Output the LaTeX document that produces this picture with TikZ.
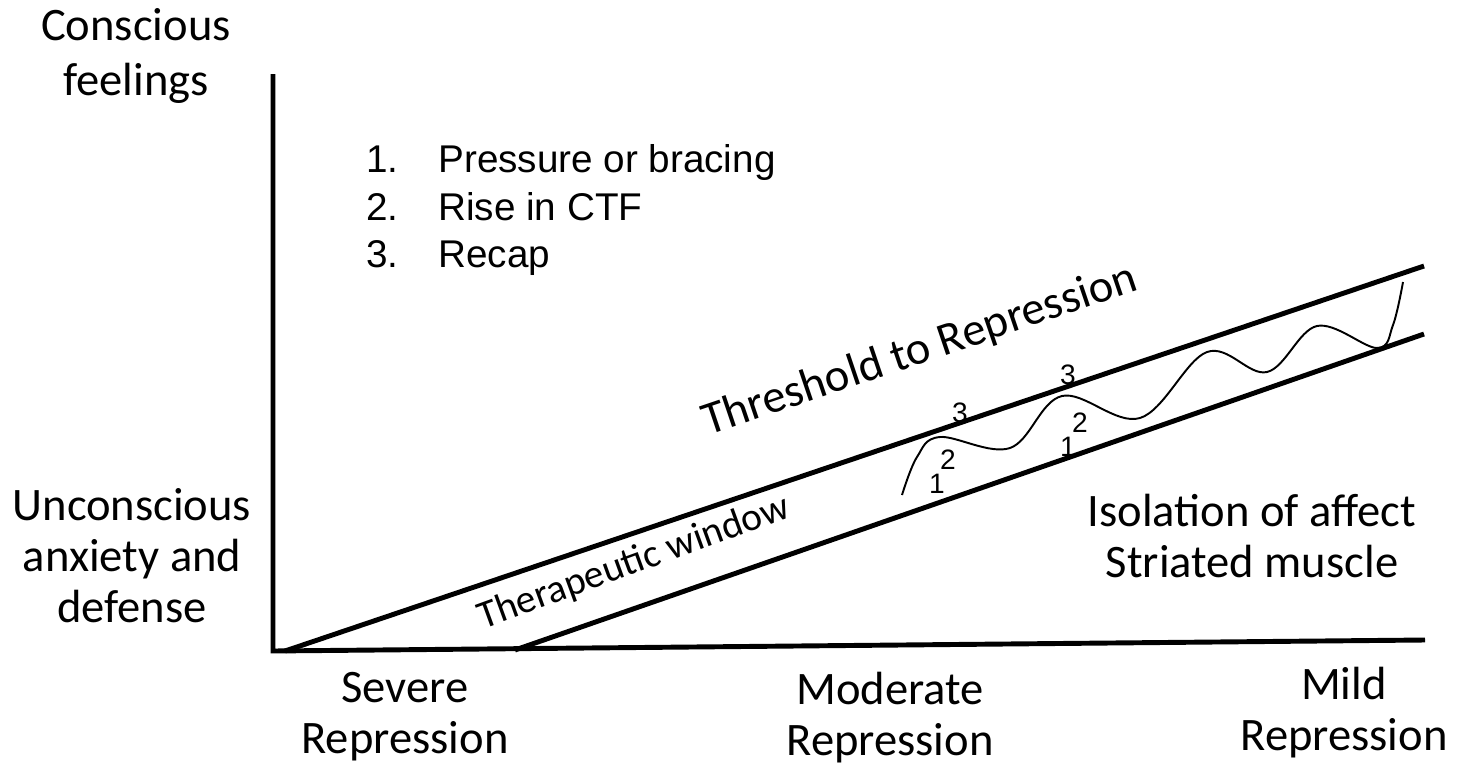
\documentclass[tikz,border=0pt]{standalone}
\usepackage{fontspec}
\setmainfont{Carlito}
\newfontfamily\arialfont{Liberation Sans}
\begin{document}
\begin{tikzpicture}[x=0.02cm,y=-0.02cm,
    thick line/.style={line width=2.8pt},
    lbl/.style={font=\fontsize{26.5}{29}\selectfont, align=center, anchor=base, inner sep=0pt},
    item/.style={font=\arialfont\fontsize{22}{22}\selectfont, anchor=base west, inner sep=0pt},
    num/.style={font=\arialfont\fontsize{16}{16}\selectfont, inner sep=0pt}]
  \useasboundingbox (0,0) rectangle (1468,771);
  % axes
  \coordinate (top) at (273,74);
  \coordinate (o) at (273,651);
  \coordinate (xend) at (1425,640);
  \draw[thick line] (top) -- (o) -- (xend);
  % band
  \coordinate (up0) at (285,651);
  \coordinate (up1) at (1424,266);
  \coordinate (lo0) at (515,650);
  \coordinate (lo1) at (1424,334);
  \draw[thick line] (up0) -- (up1);
  \draw[thick line] (lo0) -- (lo1);
  % wave
  \draw[line width=1.1pt] plot[smooth, tension=0.6] coordinates {
    (902,495) (917,457) (940,437) (1010,448) (1062,396) (1140,418)
    (1207,352) (1267,372) (1317,326) (1377,348) (1393,325) (1403,282)};
  % axis labels (base = last line)
  \node[lbl, font=\fontsize{26.5}{31}\selectfont] (cf) at (136,95) {Conscious\\feelings};
  \node[lbl] (ua) at (132,622) {Unconscious\\anxiety and\\defense};
  \node[lbl] (sev) at (405,753) {Severe\\Repression};
  \node[lbl] (mod) at (890,755) {Moderate\\Repression};
  \node[lbl] (mild) at (1344,750) {Mild\\Repression};
  \node[lbl] (iso) at (1252,577) {Isolation of affect\\Striated muscle};
  \node[lbl, anchor=center, rotate=18.7] (thr) at (920,351) {Threshold to Repression};
  \node[lbl, font=\fontsize{22.5}{26}\selectfont, anchor=center, rotate=20] (tw) at (634,563) {Therapeutic window};
  % list
  \node[item] (n1) at (366,172) {1.};
  \node[item] (n2) at (366,220) {2.};
  \node[item] (n3) at (366,267) {3.};
  \node[item] (t1) at (438,172) {Pressure or bracing};
  \node[item] (t2) at (438,220) {Rise in CTF};
  \node[item] (t3) at (438,267) {Recap};
  % wave labels
  \node[num] (a1) at (937,484) {1};
  \node[num] (a2) at (948,460) {2};
  \node[num] (a3) at (960,413) {3};
  \node[num] (b1) at (1068,447) {1};
  \node[num] (b2) at (1080,423) {2};
  \node[num] (b3) at (1068,375) {3};
\end{tikzpicture}
\end{document}
